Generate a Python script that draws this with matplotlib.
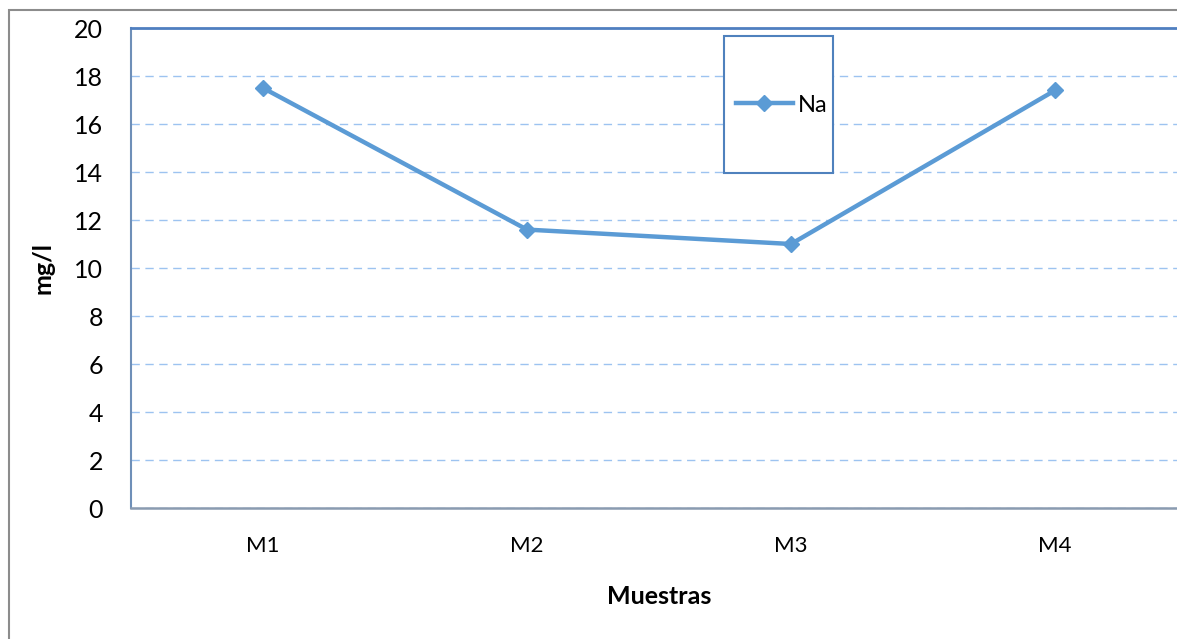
import matplotlib
matplotlib.use("Agg")
import matplotlib.pyplot as plt
from matplotlib.patches import Rectangle

categories = ["M1", "M2", "M3", "M4"]
na_values = [17.5, 11.6, 11.0, 17.4]
y_ticks = [0, 2, 4, 6, 8, 10, 12, 14, 16, 18, 20]

W, H = 1177, 639
fig = plt.figure(figsize=(W / 100, H / 100), dpi=100)
plt.rcParams['font.family'] = ['Lato', 'DejaVu Sans']

def fx(px):
    return px / W

def fy(py):
    return 1 - py / H

# outer chart border
fig.patches.append(Rectangle((fx(9), fy(700)), fx(1300) - fx(9), fy(10) - fy(700),
                             transform=fig.transFigure, fill=False,
                             edgecolor="#8c8c8c", linewidth=1.5))

left, right, top, bottom = 131, 1187, 28, 508
ax = fig.add_axes([fx(left), fy(bottom), fx(right) - fx(left), fy(top) - fy(bottom)])

x = [i + 0.5 for i in range(len(categories))]
line, = ax.plot(x, na_values, color="#5B9BD5", linewidth=3.2, marker="D",
                markersize=8, markerfacecolor="#5B9BD5", markeredgecolor="#5B9BD5",
                label="Na", clip_on=False)

ax.set_xlim(0, 4)
ax.set_ylim(0, 20)
ax.set_yticks(y_ticks)
ax.set_xticks(x)
ax.set_xticklabels(categories)
ax.tick_params(axis="y", labelsize=18, length=0, pad=20)
ax.tick_params(axis="x", labelsize=16, length=0, pad=20)

ax.yaxis.grid(True, linestyle=(0, (6, 4)), color="#9DC3F0", linewidth=1)
ax.set_axisbelow(True)

ax.spines["left"].set_color("#6e8fb8")
ax.spines["left"].set_linewidth(1.5)
ax.spines["top"].set_color("#4F7FC0")
ax.spines["top"].set_linewidth(2)
ax.spines["bottom"].set_color("#8a9bb0")
ax.spines["bottom"].set_linewidth(1.8)
ax.spines["right"].set_visible(False)

ax.set_ylabel("mg/l", fontsize=18, fontweight="bold", labelpad=14)
ax.set_xlabel("Muestras", fontsize=18, fontweight="bold", labelpad=21)

# legend box
fig.patches.append(Rectangle((fx(724), fy(173)), fx(833) - fx(724), fy(36) - fy(173),
                             transform=fig.transFigure, fill=True, facecolor="white",
                             edgecolor="#4F81BD", linewidth=1.5, zorder=5))
leg = fig.legend(handles=[line], loc="center left", bbox_to_anchor=(fx(736), fy(105)),
                 frameon=False, fontsize=17, handlelength=2.4, handletextpad=0.2,
                 borderpad=0, borderaxespad=0)
leg.set_zorder(6)

fig.savefig("out.png", dpi=100)
